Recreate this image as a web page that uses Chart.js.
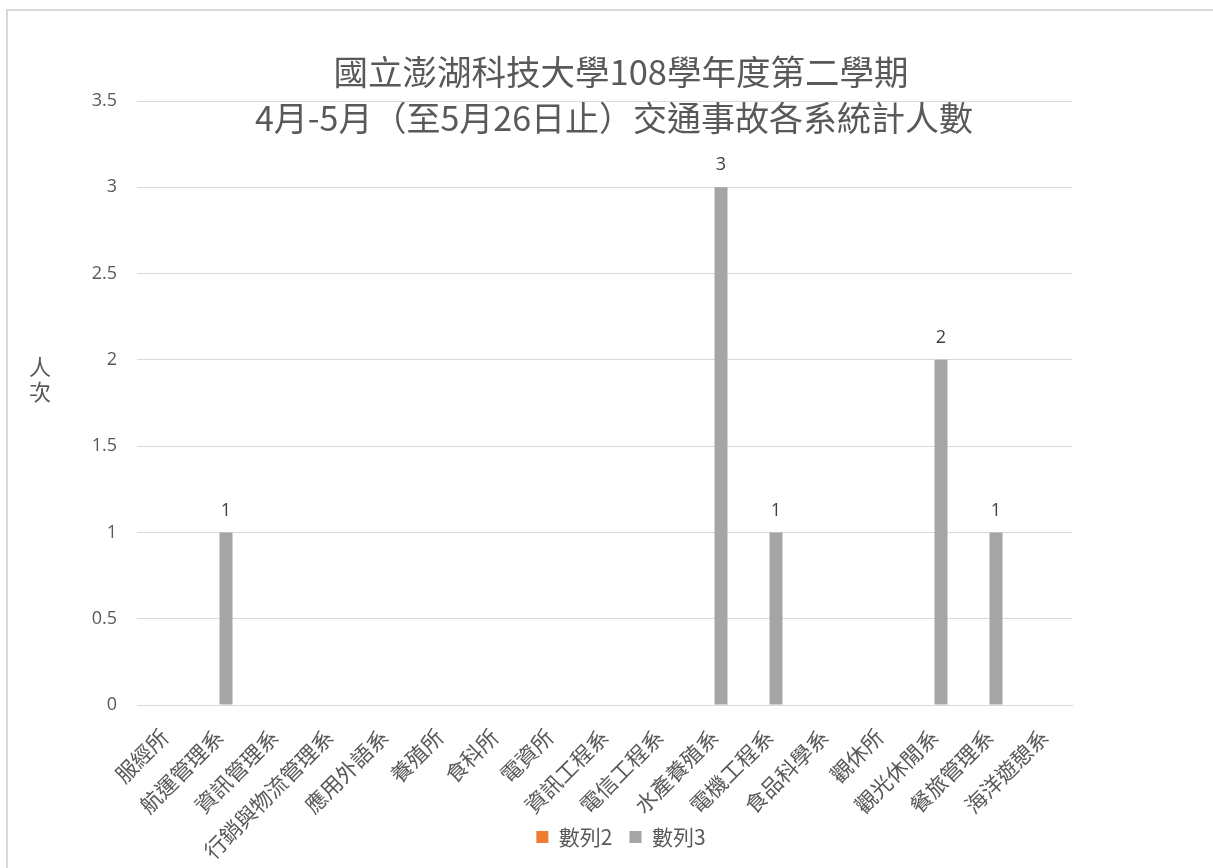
<!DOCTYPE html>
<html>
<head>
<meta charset="utf-8">
<script src="https://cdn.jsdelivr.net/npm/chart.js@4.4.1/dist/chart.umd.min.js"></script>
<style>
  html, body { margin:0; padding:0; background:#fff; width:1213px; height:868px; overflow:hidden; }
  #frame { position:absolute; left:6px; top:9px; width:1300px; height:1000px; border:2px solid #d9d9d9; box-sizing:border-box; }
  #c { position:absolute; left:0; top:0; }
</style>
</head>
<body>
<div id="frame"></div>
<canvas id="c" width="1213" height="868"></canvas>
<script>
const categories = ['服經所','航運管理系','資訊管理系','行銷與物流管理系','應用外語系','養殖所','食科所','電資所','資訊工程系','電信工程系','水產養殖系','電機工程系','食品科學系','觀休所','觀光休閒系','餐旅管理系','海洋遊憩系'];
const series2 = [null,null,null,null,null,null,null,null,null,null,null,null,null,null,null,null,null];
const series3 = [null,1,null,null,null,null,null,null,null,null,3,1,null,null,2,1,null];
const seriesNames = ['數列2','數列3'];
const yTickValues = [0,0.5,1,1.5,2,2.5,3,3.5];
const titleLines = ['國立澎湖科技大學108學年度第二學期','4月-5月（至5月26日止）交通事故各系統計人數'];
const yAxisTitle = ['人','次'];

const FONT = "'Noto Sans CJK TC', 'Noto Sans', sans-serif";
const NUMFONT = "'Open Sans', 'Noto Sans CJK TC', sans-serif";

const overlayText = {
  id: 'overlayText',
  afterDraw(chart) {
    const ctx = chart.ctx;
    ctx.save();
    ctx.fillStyle = '#595959';
    ctx.textAlign = 'center';
    ctx.textBaseline = 'middle';
    ctx.font = "34.5px " + FONT;
    ctx.fillText(titleLines[0], 621, 72);
    ctx.font = "34px " + FONT;
    ctx.fillText(titleLines[1], 614, 118);
    ctx.font = "22px " + FONT;
    ctx.fillText(yAxisTitle[0], 40, 367);
    ctx.fillText(yAxisTitle[1], 40, 392);
    ctx.restore();
  },
  afterDatasetsDraw(chart) {
    const ctx = chart.ctx;
    ctx.save();
    ctx.fillStyle = '#404040';
    ctx.textAlign = 'center';
    ctx.textBaseline = 'middle';
    ctx.font = "18px " + NUMFONT;
    chart.data.datasets.forEach((ds, di) => {
      const meta = chart.getDatasetMeta(di);
      meta.data.forEach((el, i) => {
        const v = ds.data[i];
        if (v === null || v === undefined) return;
        ctx.fillText(String(v), el.x, el.y - 22);
      });
    });
    ctx.restore();
  }
};

new Chart(document.getElementById('c'), {
  type: 'bar',
  data: {
    labels: categories,
    datasets: [
      { label: seriesNames[0], data: series2, backgroundColor: '#ed7d31', categoryPercentage: 0.473, barPercentage: 1 },
      { label: seriesNames[1], data: series3, backgroundColor: '#a5a5a5', categoryPercentage: 0.473, barPercentage: 1 }
    ]
  },
  options: {
    responsive: false,
    devicePixelRatio: 1,
    animation: false,
    layout: { padding: { left: 29, right: 0, top: 101, bottom: 10.5 } },
    plugins: {
      title: { display: false },
      tooltip: { enabled: false },
      legend: {
        position: 'bottom',
        labels: {
          font: { size: 21, family: FONT },
          color: '#595959',
          boxWidth: 12,
          boxHeight: 12,
          padding: 17
        }
      }
    },
    scales: {
      x: {
        grid: { display: false, drawTicks: false },
        border: { display: true, color: '#d9d9d9', width: 1 },
        ticks: {
          autoSkip: false,
          minRotation: 45,
          maxRotation: 45,
          padding: 19,
          color: '#595959',
          font: { size: 21.5, family: FONT }
        },
        afterFit(s) {
          s.height = 104.5;
          s._computeLabelArea = function () { return undefined; };
        }
      },
      y: {
        min: 0,
        max: 3.5,
        grid: { color: '#d9d9d9', lineWidth: 1, drawTicks: false },
        border: { display: false },
        afterBuildTicks(s) { s.ticks = yTickValues.map(v => ({ value: v })); },
        ticks: {
          padding: 20,
          color: '#595959',
          font: { size: 18, family: NUMFONT },
          callback: (v) => String(v)
        },
        afterFit(s) { s.width = 108; }
      },
      y2: {
        position: 'right',
        display: true,
        grid: { display: false, drawTicks: false },
        border: { display: false },
        ticks: { display: false },
        afterFit(s) { s.width = 141; }
      }
    }
  },
  plugins: [overlayText]
});
</script>
</body>
</html>
